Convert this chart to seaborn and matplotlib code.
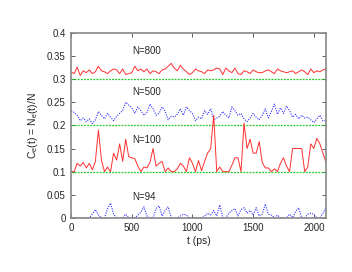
import numpy as np
import pandas as pd
import matplotlib
matplotlib.use("Agg")
import matplotlib.pyplot as plt
import seaborn as sns

# time axis (ps), one sample every 25 ps
t = np.arange(0, 2101, 25)

# fraction of excited sites (x 1e-3)
n800 = [316, 312, 326, 308, 318, 314, 320, 312, 316, 328,
        318, 316, 312, 318, 322, 320, 312, 322, 310, 312,
        314, 328, 318, 322, 316, 322, 312, 318, 316, 312,
        320, 322, 328, 334, 324, 318, 330, 322, 316, 310,
        314, 322, 318, 316, 312, 320, 318, 320, 324, 322,
        310, 324, 318, 314, 324, 312, 310, 318, 316, 312,
        320, 316, 314, 314, 318, 320, 316, 312, 322, 318,
        316, 314, 316, 318, 312, 316, 320, 316, 310, 322,
        314, 318, 316, 320, 322]
n500 = [232, 228, 222, 210, 216, 208, 214, 204, 212, 230,
        222, 214, 226, 218, 210, 220, 226, 232, 250, 244,
        238, 226, 240, 232, 222, 228, 246, 236, 222, 226,
        240, 230, 212, 220, 218, 224, 236, 222, 240, 232,
        226, 210, 218, 214, 232, 224, 236, 212, 216, 220,
        230, 222, 216, 240, 232, 222, 226, 214, 208, 216,
        226, 218, 212, 222, 236, 216, 230, 246, 224, 238,
        226, 242, 232, 218, 224, 214, 222, 216, 218, 212,
        206, 214, 222, 210, 210]
n100 = [100, 100, 118, 112, 120, 108, 118, 104, 122, 190,
        125, 100, 110, 100, 140, 125, 160, 122, 170, 132,
        130, 128, 112, 100, 110, 108, 120, 150, 112, 118,
        122, 100, 108, 100, 100, 106, 118, 112, 100, 130,
        118, 100, 124, 102, 122, 140, 150, 222, 100, 110,
        100, 100, 100, 114, 130, 130, 100, 205, 150, 170,
        140, 140, 165, 120, 108, 108, 100, 106, 100, 118,
        130, 112, 100, 150, 150, 150, 150, 100, 110, 160,
        150, 172, 160, 140, 120]
n94 = [0, 0, 0, 0, 0, 0, 0, 8, 18, 6,
       0, 0, 20, 32, 8, 0, 0, 0, 8, 0,
       0, 0, 6, 12, 24, 4, 0, 0, 20, 26,
       4, 16, 24, 0, 0, 0, 4, 8, 6, 0,
       0, 0, 0, 0, 4, 10, 6, 16, 4, 28,
       0, 0, 10, 16, 20, 4, 18, 22, 10, 16,
       6, 22, 4, 8, 30, 8, 6, 0, 6, 0,
       0, 0, 8, 0, 14, 22, 0, 0, 8, 10,
       8, 0, 0, 10, 22]

baselines = [0.3, 0.2, 0.1]
labels = ["N=800", "N=500", "N=100", "N=94"]
label_y = [0.36, 0.272, 0.168, 0.045]

sns.set_style("ticks")
plt.rcParams['font.family'] = ['Liberation Sans', 'DejaVu Sans']
plt.rcParams['mathtext.fontset'] = 'custom'
plt.rcParams['mathtext.rm'] = 'Liberation Sans'
plt.rcParams['mathtext.it'] = 'Liberation Sans'

fig = plt.figure(figsize=(3.52, 2.72), dpi=100)
ax = fig.add_axes([0.202, 0.199, 0.724, 0.680])

df = pd.DataFrame({'t': t,
                   'n800': np.array(n800) / 1000.0,
                   'n500': np.array(n500) / 1000.0,
                   'n100': np.array(n100) / 1000.0,
                   'n94': np.array(n94) / 1000.0})

for b in baselines:
    ax.axhline(b, color='#22cc22', lw=0.9, ls=(0, (1.5, 1.0)), zorder=1)

sns.lineplot(data=df, x='t', y='n800', ax=ax, color='#ff3030', lw=0.7)
sns.lineplot(data=df, x='t', y='n500', ax=ax, color='#3030ff', lw=0.8, ls=(0, (1, 1.2)))
sns.lineplot(data=df, x='t', y='n100', ax=ax, color='#ff3030', lw=0.7)
sns.lineplot(data=df, x='t', y='n94', ax=ax, color='#3030ff', lw=0.8, ls=(0, (1, 1.2)))

for lab, y in zip(labels, label_y):
    ax.text(500, y, lab, fontsize=7, ha='left', va='center')

ax.set_xlim(0, 2100)
ax.set_ylim(0, 0.4)
ax.set_xticks([0, 500, 1000, 1500, 2000])
ax.set_yticks([0, 0.05, 0.1, 0.15, 0.2, 0.25, 0.3, 0.35, 0.4])
ax.set_yticklabels(['0', '0.05', '0.1', '0.15', '0.2', '0.25', '0.3', '0.35', '0.4'])
ax.tick_params(direction='in', length=3, width=0.6, top=True, right=True,
               labelsize=7, pad=4, color='#444444')
for s in ax.spines.values():
    s.set_color('#888888')
    s.set_linewidth(1.2)

ax.set_xlabel('t (ps)', fontsize=7.5, labelpad=2)
ax.set_ylabel(r'C$_e$(t) = N$_e$(t)/N', fontsize=7.5, labelpad=5)

fig.savefig('out.png', dpi=100)
